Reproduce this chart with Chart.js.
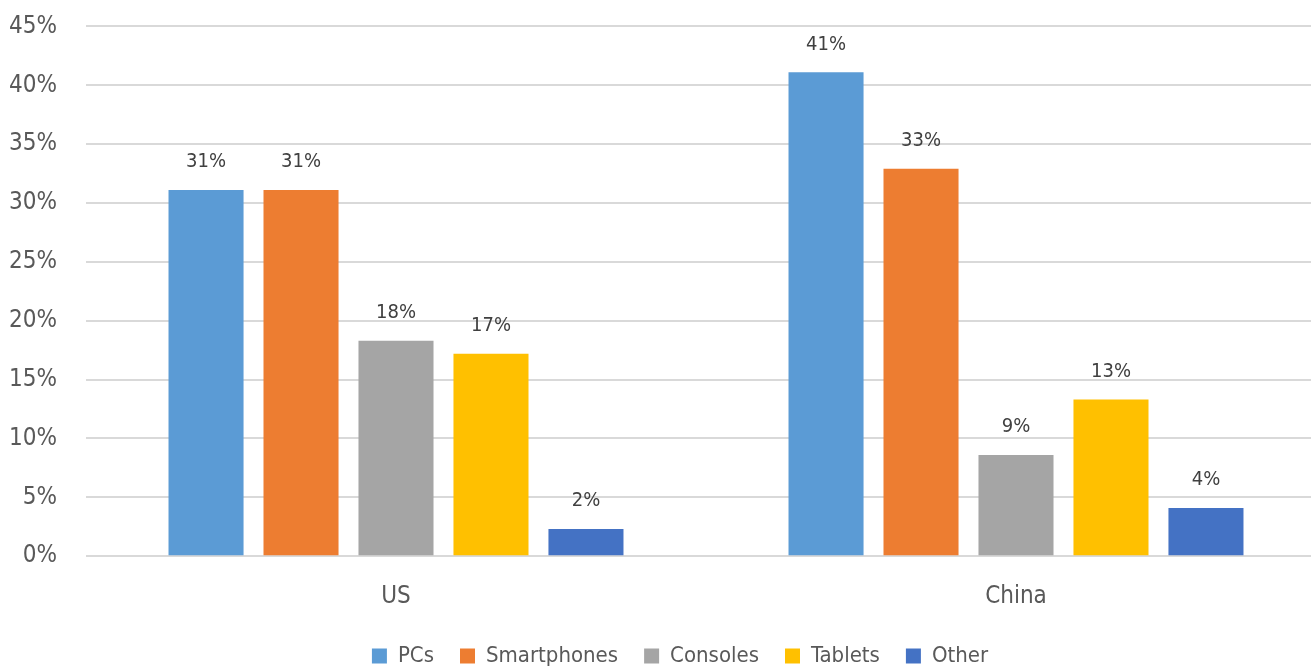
<!DOCTYPE html>
<html>
<head>
<meta charset="utf-8">
<script src="https://cdn.jsdelivr.net/npm/chart.js@4/dist/chart.umd.min.js"></script>
<style>
  html, body { margin: 0; padding: 0; background: #fff; overflow: hidden; }
  #wrap { width: 1326px; height: 698px; margin-top: -17px; }
</style>
</head>
<body>
<div id="wrap"><canvas id="chart" width="1326" height="698"></canvas></div>
<script>
// Gaming device share by region
const regions = ["US", "China"];
const devices = ["PCs", "Smartphones", "Consoles", "Tablets", "Other"];
const pcs = [31.1, 41.1];
const smartphones = [31.1, 32.9];
const consoles = [18.3, 8.6];
const tablets = [17.2, 13.3];
const other = [2.3, 4.1];
const colors = ["#5b9bd5", "#ed7d31", "#a5a5a5", "#ffc000", "#4472c4"];

const FONT = "'Liberation Sans Narrow', 'DejaVu Sans Condensed', 'Arial Narrow', sans-serif";

// value labels above each bar
const barLabels = {
  id: "barLabels",
  afterDatasetsDraw(chart) {
    const { ctx } = chart;
    ctx.save();
    ctx.font = "20px " + FONT;
    ctx.fillStyle = "#404040";
    ctx.textAlign = "center";
    ctx.textBaseline = "middle";
    chart.data.datasets.forEach((ds, i) => {
      chart.getDatasetMeta(i).data.forEach((bar, j) => {
        ctx.fillText(Math.round(ds.data[j]) + "%", bar.x, bar.y - 28);
      });
    });
    ctx.restore();
  }
};

// nudge the legend so it sits under the middle of the plot
const legendShift = {
  id: "legendShift",
  afterLayout(chart) {
    if (chart.legend) {
      chart.legend.left += 17;
      chart.legend.right += 17;
    }
  }
};

const series = [pcs, smartphones, consoles, tablets, other];

new Chart(document.getElementById("chart"), {
  type: "bar",
  plugins: [barLabels, legendShift],
  data: {
    labels: regions,
    datasets: devices.map((name, i) => ({
      label: name,
      data: series[i],
      backgroundColor: colors[i],
      borderWidth: 0
    }))
  },
  options: {
    responsive: false,
    animation: false,
    categoryPercentage: 0.766,
    barPercentage: 0.79,
    layout: { padding: { top: 0, left: 0, right: 0, bottom: 4 } },
    plugins: {
      tooltip: { enabled: false },
      legend: {
        position: "bottom",
        labels: {
          color: "#595959",
          font: { family: FONT, size: 22 },
          boxWidth: 15,
          boxHeight: 15,
          padding: 26
        }
      }
    },
    scales: {
      x: {
        grid: { display: false },
        border: { display: false },
        afterFit(scale) { scale.height -= 10; },
        ticks: {
          color: "#595959",
          font: { family: FONT, size: 24 },
          padding: 18
        }
      },
      y: {
        min: 0,
        max: 45,
        border: { display: false },
        grid: { color: "#d9d9d9", lineWidth: 2, drawTicks: false },
        afterFit(scale) { scale.width = 86; },
        ticks: {
          stepSize: 5,
          color: "#595959",
          font: { family: FONT, size: 24 },
          padding: 29,
          callback: v => v + "%"
        }
      }
    }
  }
});
</script>
</body>
</html>
